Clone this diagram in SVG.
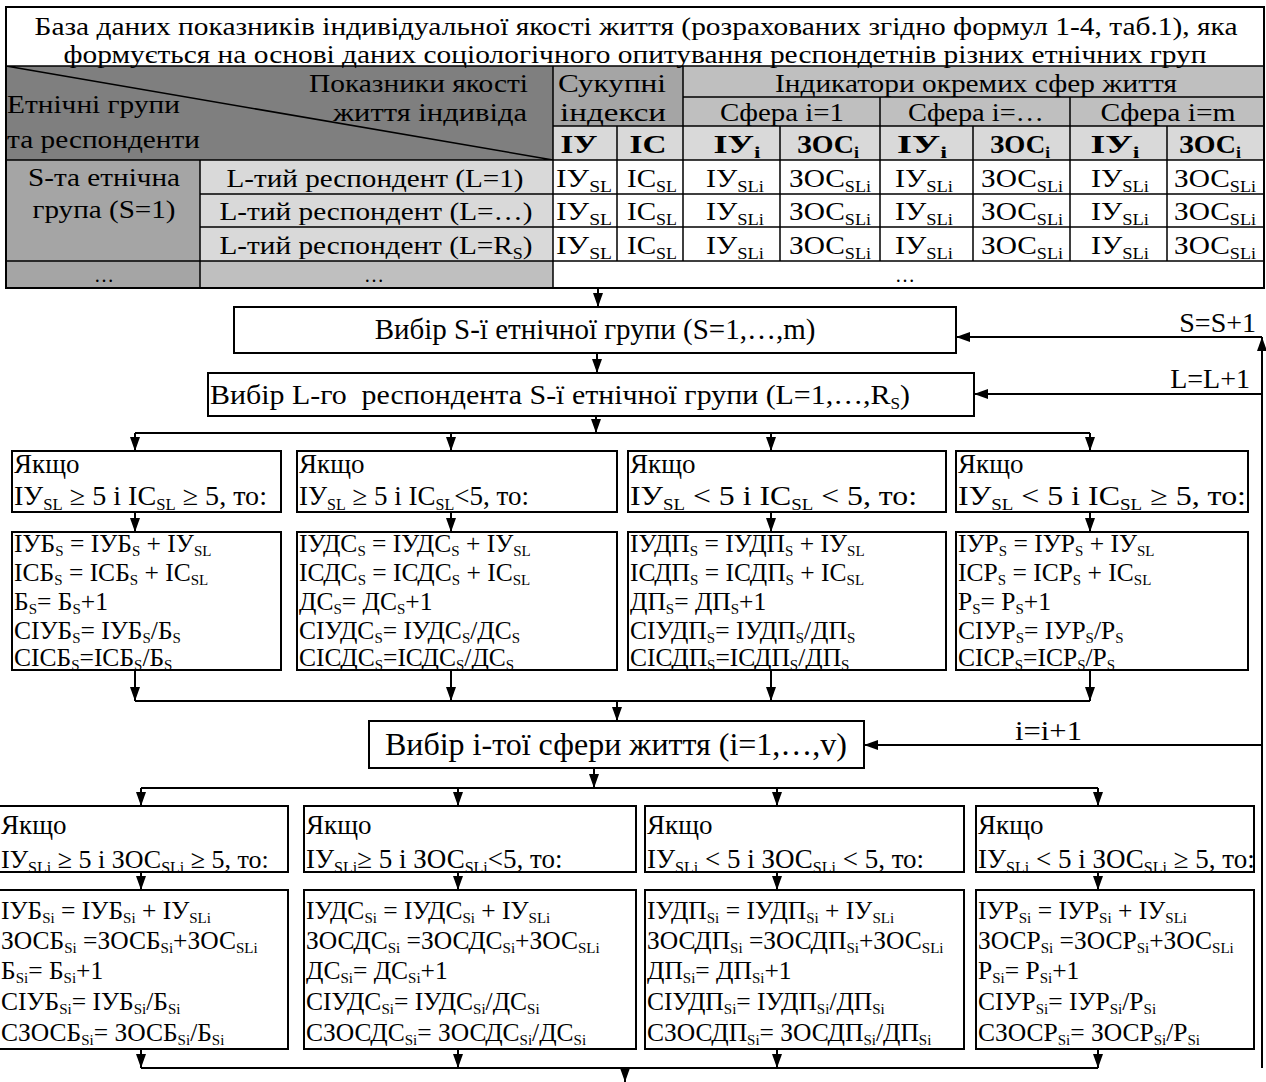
<svg xmlns="http://www.w3.org/2000/svg" width="1266" height="1082" viewBox="0 0 1266 1082">
<defs>
<marker id="ah" viewBox="0 0 14 10" refX="14" refY="5" markerWidth="14" markerHeight="10" markerUnits="userSpaceOnUse" orient="auto"><path d="M0,0 L14,5 L0,10 z" fill="#000"/></marker>
<style>
text{font-family:"Liberation Serif","Times New Roman",serif;fill:#000}
.ti{font-size:25px;text-anchor:middle}
.h{font-size:25px}
.lb{font-size:28px}
.c{text-anchor:middle}
.e{text-anchor:end}
.b{font-weight:bold}
.s{font-size:16px;baseline-shift:-5px}
.sf{font-size:15px;baseline-shift:-3.5px}
.d{font-size:26px;text-anchor:middle}
.dots{font-size:20px;text-anchor:middle}
.cond{font-size:27px}
.f{font-size:25.5px}
.box{fill:#fff;stroke:#000;stroke-width:2}
.ln{stroke:#000;stroke-width:1.5;fill:none}
.cn{stroke:#000;stroke-width:2;fill:none}
.arr{stroke:#000;stroke-width:2;fill:none;marker-end:url(#ah)}
</style>
</defs>
<rect width="1266" height="1082" fill="#fff"/>

<g id="table">
<rect x="6" y="7" width="1258" height="281" fill="#fff"/>
<rect x="6" y="66" width="547" height="94" fill="#7f7f7f"/>
<rect x="553" y="66" width="130" height="60" fill="#a5a5a5"/>
<rect x="683" y="66" width="581" height="60" fill="#bfbfbf"/>
<rect x="553" y="126" width="711" height="34" fill="#d9d9d9"/>
<rect x="6" y="160" width="194" height="128" fill="#a5a5a5"/>
<rect x="200" y="160" width="353" height="101" fill="#d9d9d9"/>
<rect x="200" y="261" width="353" height="27" fill="#bfbfbf"/>
<g class="ln">
<path d="M6,66 H1264 M6,66 L553,160 M6,160 H1264 M683,97 H1264 M553,126 H1264 M200,194 H1264 M200,227 H1264 M6,261 H1264"/>
<path d="M553,66 V288 M683,66 V261 M880,97 V261 M1070,97 V261 M617,126 V261 M780,126 V261 M973,126 V261 M1167,126 V261 M200,160 V288"/>
</g>
<rect x="6" y="7" width="1258" height="281" fill="none" stroke="#000" stroke-width="2"/>
<text class="ti" x="636" y="35" textLength="1203" lengthAdjust="spacingAndGlyphs">База даних показників індивідуальної якості життя (розрахованих згідно формул 1-4, таб.1), яка</text>
<text class="ti" x="635" y="63" textLength="1143" lengthAdjust="spacingAndGlyphs">формується на основі даних соціологічного опитування респондетнів різних етнічних груп</text>
<text class="h e" x="528" y="92" textLength="219" lengthAdjust="spacingAndGlyphs">Показники якості</text>
<text class="h e" x="527" y="121" textLength="194" lengthAdjust="spacingAndGlyphs">життя індивіда</text>
<text class="h" x="7" y="113" textLength="173" lengthAdjust="spacingAndGlyphs">Етнічні групи</text>
<text class="h" x="7" y="148" textLength="193" lengthAdjust="spacingAndGlyphs">та респонденти</text>
<text class="h c" x="612" y="92" textLength="108" lengthAdjust="spacingAndGlyphs">Сукупні</text>
<text class="h c" x="613" y="121" textLength="106" lengthAdjust="spacingAndGlyphs">індекси</text>
<text class="h c" x="976" y="92" textLength="402" lengthAdjust="spacingAndGlyphs">Індикатори окремих сфер життя</text>
<text class="h c" x="782" y="121" textLength="124" lengthAdjust="spacingAndGlyphs">Сфера і=1</text>
<text class="h c" x="976" y="121" textLength="136" lengthAdjust="spacingAndGlyphs">Сфера і=…</text>
<text class="h c" x="1168" y="121" textLength="135" lengthAdjust="spacingAndGlyphs">Сфера і=m</text>
<text class="h c b" x="579" y="153" textLength="37" lengthAdjust="spacingAndGlyphs">ІУ</text>
<text class="h c b" x="648" y="153" textLength="37" lengthAdjust="spacingAndGlyphs">ІС</text>
<text class="h c b" x="737" y="153" textLength="47" lengthAdjust="spacingAndGlyphs">ІУ<tspan class="s">і</tspan></text>
<text class="h c b" x="828" y="153" textLength="62" lengthAdjust="spacingAndGlyphs">ЗОС<tspan class="s">і</tspan></text>
<text class="h c b" x="922" y="153" textLength="50" lengthAdjust="spacingAndGlyphs">ІУ<tspan class="s">і</tspan></text>
<text class="h c b" x="1020" y="153" textLength="60" lengthAdjust="spacingAndGlyphs">ЗОС<tspan class="s">і</tspan></text>
<text class="h c b" x="1115" y="153" textLength="49" lengthAdjust="spacingAndGlyphs">ІУ<tspan class="s">і</tspan></text>
<text class="h c b" x="1210" y="153" textLength="62" lengthAdjust="spacingAndGlyphs">ЗОС<tspan class="s">і</tspan></text>
<text class="d" x="104" y="186" textLength="152" lengthAdjust="spacingAndGlyphs">S-та етнічна</text>
<text class="d" x="104" y="218" textLength="143" lengthAdjust="spacingAndGlyphs">група (S=1)</text>
<text class="d" x="375" y="187" textLength="297" lengthAdjust="spacingAndGlyphs">L-тий респондент (L=1)</text>
<text class="d" x="376" y="220" textLength="313" lengthAdjust="spacingAndGlyphs">L-тий респондент (L=…)</text>
<text class="d" x="376" y="254" textLength="313" lengthAdjust="spacingAndGlyphs">L-тий респондент (L=R<tspan class="s">S</tspan>)</text>
<g id="row1">
<text class="d" x="584" y="187" textLength="56" lengthAdjust="spacingAndGlyphs">ІУ<tspan class="s">SL</tspan></text>
<text class="d" x="652" y="187" textLength="50" lengthAdjust="spacingAndGlyphs">ІС<tspan class="s">SL</tspan></text>
<text class="d" x="735" y="187" textLength="58" lengthAdjust="spacingAndGlyphs">ІУ<tspan class="s">SLi</tspan></text>
<text class="d" x="830" y="187" textLength="82" lengthAdjust="spacingAndGlyphs">ЗОС<tspan class="s">SLi</tspan></text>
<text class="d" x="924" y="187" textLength="58" lengthAdjust="spacingAndGlyphs">ІУ<tspan class="s">SLi</tspan></text>
<text class="d" x="1022" y="187" textLength="82" lengthAdjust="spacingAndGlyphs">ЗОС<tspan class="s">SLi</tspan></text>
<text class="d" x="1120" y="187" textLength="58" lengthAdjust="spacingAndGlyphs">ІУ<tspan class="s">SLi</tspan></text>
<text class="d" x="1215" y="187" textLength="82" lengthAdjust="spacingAndGlyphs">ЗОС<tspan class="s">SLi</tspan></text>
</g>
<g id="row2">
<text class="d" x="584" y="220" textLength="56" lengthAdjust="spacingAndGlyphs">ІУ<tspan class="s">SL</tspan></text>
<text class="d" x="652" y="220" textLength="50" lengthAdjust="spacingAndGlyphs">ІС<tspan class="s">SL</tspan></text>
<text class="d" x="735" y="220" textLength="58" lengthAdjust="spacingAndGlyphs">ІУ<tspan class="s">SLi</tspan></text>
<text class="d" x="830" y="220" textLength="82" lengthAdjust="spacingAndGlyphs">ЗОС<tspan class="s">SLi</tspan></text>
<text class="d" x="924" y="220" textLength="58" lengthAdjust="spacingAndGlyphs">ІУ<tspan class="s">SLi</tspan></text>
<text class="d" x="1022" y="220" textLength="82" lengthAdjust="spacingAndGlyphs">ЗОС<tspan class="s">SLi</tspan></text>
<text class="d" x="1120" y="220" textLength="58" lengthAdjust="spacingAndGlyphs">ІУ<tspan class="s">SLi</tspan></text>
<text class="d" x="1215" y="220" textLength="82" lengthAdjust="spacingAndGlyphs">ЗОС<tspan class="s">SLi</tspan></text>
</g>
<g id="row3">
<text class="d" x="584" y="254" textLength="56" lengthAdjust="spacingAndGlyphs">ІУ<tspan class="s">SL</tspan></text>
<text class="d" x="652" y="254" textLength="50" lengthAdjust="spacingAndGlyphs">ІС<tspan class="s">SL</tspan></text>
<text class="d" x="735" y="254" textLength="58" lengthAdjust="spacingAndGlyphs">ІУ<tspan class="s">SLi</tspan></text>
<text class="d" x="830" y="254" textLength="82" lengthAdjust="spacingAndGlyphs">ЗОС<tspan class="s">SLi</tspan></text>
<text class="d" x="924" y="254" textLength="58" lengthAdjust="spacingAndGlyphs">ІУ<tspan class="s">SLi</tspan></text>
<text class="d" x="1022" y="254" textLength="82" lengthAdjust="spacingAndGlyphs">ЗОС<tspan class="s">SLi</tspan></text>
<text class="d" x="1120" y="254" textLength="58" lengthAdjust="spacingAndGlyphs">ІУ<tspan class="s">SLi</tspan></text>
<text class="d" x="1215" y="254" textLength="82" lengthAdjust="spacingAndGlyphs">ЗОС<tspan class="s">SLi</tspan></text>
</g>
<text class="dots" x="104" y="282">…</text>
<text class="dots" x="374" y="282">…</text>
<text class="dots" x="905" y="282">…</text>
</g>

<g id="connectors">
<path class="arr" d="M598,288 V307"/>
<path class="arr" d="M597,353 V373"/>
<path class="arr" d="M596,416 V433"/>
<path class="cn" d="M135,433 H1090"/>
<path class="arr" d="M135,433 V451"/>
<path class="arr" d="M451,433 V451"/>
<path class="arr" d="M771,433 V451"/>
<path class="arr" d="M1090,433 V451"/>
<path class="arr" d="M135,512 V532"/>
<path class="arr" d="M451,512 V532"/>
<path class="arr" d="M771,512 V532"/>
<path class="arr" d="M1090,512 V532"/>
<path class="arr" d="M135,670 V701"/>
<path class="arr" d="M451,670 V701"/>
<path class="arr" d="M771,670 V701"/>
<path class="arr" d="M1090,670 V701"/>
<path class="cn" d="M135,701 H1090"/>
<path class="arr" d="M617,701 V721"/>
<path class="arr" d="M594,768 V788"/>
<path class="cn" d="M141,788 H1098"/>
<path class="arr" d="M141,788 V806"/>
<path class="arr" d="M458,788 V806"/>
<path class="arr" d="M777,788 V806"/>
<path class="arr" d="M1098,788 V806"/>
<path class="arr" d="M141,872 V890"/>
<path class="arr" d="M458,872 V890"/>
<path class="arr" d="M777,872 V890"/>
<path class="arr" d="M1098,872 V890"/>
<path class="arr" d="M141,1049 V1068"/>
<path class="arr" d="M458,1049 V1068"/>
<path class="arr" d="M777,1049 V1068"/>
<path class="arr" d="M1098,1049 V1068"/>
<path class="cn" d="M141,1068 H1098"/>
<path class="arr" d="M625,1068 V1082"/>
<path class="arr" d="M1262,1068 V337"/>
<path class="arr" d="M1262,337 H956"/>
<path class="arr" d="M1262,394 H974"/>
<path class="arr" d="M1262,745 H864"/>
<text class="lb e" x="1256" y="332">S=S+1</text>
<text class="lb e" x="1250" y="388">L=L+1</text>
<text class="lb" x="1015" y="740" textLength="67" lengthAdjust="spacingAndGlyphs">i=i+1</text>
</g>

<g id="box-s">
<rect class="box" x="234" y="307" width="722" height="46"/>
<text class="c" style="font-size:29px" x="595" y="339">Вибір S-ї етнічної групи (S=1,…,m)</text>
</g>
<g id="box-l">
<rect class="box" x="208" y="373" width="766" height="43"/>
<text style="font-size:28px" x="210" y="404" textLength="700" lengthAdjust="spacingAndGlyphs" xml:space="preserve">Вибір L-го  респондента S-ї етнічної групи (L=1,…,R<tspan class="s">S</tspan>)</text>
</g>

<g id="cond1a">
<rect class="box" x="12" y="451" width="269" height="61"/>
<text class="cond" x="14" y="473">Якщо</text>
<text class="cond" x="14" y="505" textLength="253" lengthAdjust="spacingAndGlyphs">ІУ<tspan class="s">SL</tspan> ≥ 5 і ІС<tspan class="s">SL</tspan> ≥ 5, то:</text>
</g>
<g id="cond1b">
<rect class="box" x="297" y="451" width="320" height="61"/>
<text class="cond" x="299" y="473">Якщо</text>
<text class="cond" x="299" y="505">ІУ<tspan class="s">SL</tspan> ≥ 5 і ІС<tspan class="s">SL</tspan>&lt;5, то:</text>
</g>
<g id="cond1c">
<rect class="box" x="628" y="451" width="318" height="61"/>
<text class="cond" x="630" y="473">Якщо</text>
<text class="cond" x="630" y="505" textLength="287" lengthAdjust="spacingAndGlyphs">ІУ<tspan class="s">SL</tspan> &lt; 5 і ІС<tspan class="s">SL</tspan> &lt; 5, то:</text>
</g>
<g id="cond1d">
<rect class="box" x="956" y="451" width="292" height="61"/>
<text class="cond" x="958" y="473">Якщо</text>
<text class="cond" x="958" y="505" textLength="288" lengthAdjust="spacingAndGlyphs">ІУ<tspan class="s">SL</tspan> &lt; 5 і ІС<tspan class="s">SL</tspan> ≥ 5, то:</text>
</g>

<g id="calc1a">
<rect class="box" x="12" y="532" width="269" height="138"/>
<text class="f" x="14" y="552">ІУБ<tspan class="sf">S</tspan> = ІУБ<tspan class="sf">S</tspan> + ІУ<tspan class="sf">SL</tspan></text>
<text class="f" x="14" y="581">ІСБ<tspan class="sf">S</tspan> = ІСБ<tspan class="sf">S</tspan> + ІС<tspan class="sf">SL</tspan></text>
<text class="f" x="14" y="610">Б<tspan class="sf">S</tspan>= Б<tspan class="sf">S</tspan>+1</text>
<text class="f" x="14" y="639">СІУБ<tspan class="sf">S</tspan>= ІУБ<tspan class="sf">S</tspan>/Б<tspan class="sf">S</tspan></text>
<text class="f" x="14" y="666">СІСБ<tspan class="sf">S</tspan>=ІСБ<tspan class="sf">S</tspan>/Б<tspan class="sf">S</tspan></text>
</g>
<g id="calc1b">
<rect class="box" x="297" y="532" width="320" height="138"/>
<text class="f" x="299" y="552">ІУДС<tspan class="sf">S</tspan> = ІУДС<tspan class="sf">S</tspan> + ІУ<tspan class="sf">SL</tspan></text>
<text class="f" x="299" y="581">ІСДС<tspan class="sf">S</tspan> = ІСДС<tspan class="sf">S</tspan> + ІС<tspan class="sf">SL</tspan></text>
<text class="f" x="299" y="610">ДС<tspan class="sf">S</tspan>= ДС<tspan class="sf">S</tspan>+1</text>
<text class="f" x="299" y="639">СІУДС<tspan class="sf">S</tspan>= ІУДС<tspan class="sf">S</tspan>/ДС<tspan class="sf">S</tspan></text>
<text class="f" x="299" y="666">СІСДС<tspan class="sf">S</tspan>=ІСДС<tspan class="sf">S</tspan>/ДС<tspan class="sf">S</tspan></text>
</g>
<g id="calc1c">
<rect class="box" x="628" y="532" width="318" height="138"/>
<text class="f" x="630" y="552">ІУДП<tspan class="sf">S</tspan> = ІУДП<tspan class="sf">S</tspan> + ІУ<tspan class="sf">SL</tspan></text>
<text class="f" x="630" y="581">ІСДП<tspan class="sf">S</tspan> = ІСДП<tspan class="sf">S</tspan> + ІС<tspan class="sf">SL</tspan></text>
<text class="f" x="630" y="610">ДП<tspan class="sf">S</tspan>= ДП<tspan class="sf">S</tspan>+1</text>
<text class="f" x="630" y="639">СІУДП<tspan class="sf">S</tspan>= ІУДП<tspan class="sf">S</tspan>/ДП<tspan class="sf">S</tspan></text>
<text class="f" x="630" y="666">СІСДП<tspan class="sf">S</tspan>=ІСДП<tspan class="sf">S</tspan>/ДП<tspan class="sf">S</tspan></text>
</g>
<g id="calc1d">
<rect class="box" x="956" y="532" width="292" height="138"/>
<text class="f" x="958" y="552">ІУР<tspan class="sf">S</tspan> = ІУР<tspan class="sf">S</tspan> + ІУ<tspan class="sf">SL</tspan></text>
<text class="f" x="958" y="581">ІСР<tspan class="sf">S</tspan> = ІСР<tspan class="sf">S</tspan> + ІС<tspan class="sf">SL</tspan></text>
<text class="f" x="958" y="610">Р<tspan class="sf">S</tspan>= Р<tspan class="sf">S</tspan>+1</text>
<text class="f" x="958" y="639">СІУР<tspan class="sf">S</tspan>= ІУР<tspan class="sf">S</tspan>/Р<tspan class="sf">S</tspan></text>
<text class="f" x="958" y="666">СІСР<tspan class="sf">S</tspan>=ІСР<tspan class="sf">S</tspan>/Р<tspan class="sf">S</tspan></text>
</g>

<g id="box-i">
<rect class="box" x="369" y="721" width="495" height="47"/>
<text class="c" style="font-size:32px" x="616" y="755">Вибір і-тої сфери життя (і=1,…,v)</text>
</g>

<g id="cond2a">
<rect class="box" x="-2" y="806" width="290" height="66"/>
<text class="cond" x="1" y="834">Якщо</text>
<text class="cond" style="font-size:26px" x="1" y="868">ІУ<tspan class="s">SLi</tspan> ≥ 5 і ЗОС<tspan class="s">SLi</tspan> ≥ 5, то:</text>
</g>
<g id="cond2b">
<rect class="box" x="304" y="806" width="332" height="66"/>
<text class="cond" x="306" y="834">Якщо</text>
<text class="cond" x="306" y="868">ІУ<tspan class="s">SLi</tspan>≥ 5 і ЗОС<tspan class="s">SLi</tspan>&lt;5, то:</text>
</g>
<g id="cond2c">
<rect class="box" x="645" y="806" width="319" height="66"/>
<text class="cond" x="647" y="834">Якщо</text>
<text class="cond" x="647" y="868">ІУ<tspan class="s">SLi</tspan> &lt; 5 і ЗОС<tspan class="s">SLi</tspan> &lt; 5, то:</text>
</g>
<g id="cond2d">
<rect class="box" x="976" y="806" width="278" height="66"/>
<text class="cond" x="978" y="834">Якщо</text>
<text class="cond" x="978" y="868">ІУ<tspan class="s">SLi</tspan> &lt; 5 і ЗОС<tspan class="s">SLi</tspan> ≥ 5, то:</text>
</g>

<g id="calc2a">
<rect class="box" x="-2" y="890" width="290" height="159"/>
<text class="f" x="1" y="919">ІУБ<tspan class="sf">Si</tspan> = ІУБ<tspan class="sf">Si</tspan> + ІУ<tspan class="sf">SLi</tspan></text>
<text class="f" x="1" y="949">ЗОСБ<tspan class="sf">Si</tspan> =ЗОСБ<tspan class="sf">Si</tspan>+ЗОС<tspan class="sf">SLi</tspan></text>
<text class="f" x="1" y="979">Б<tspan class="sf">Si</tspan>= Б<tspan class="sf">Si</tspan>+1</text>
<text class="f" x="1" y="1010">СІУБ<tspan class="sf">Si</tspan>= ІУБ<tspan class="sf">Si</tspan>/Б<tspan class="sf">Si</tspan></text>
<text class="f" x="1" y="1041">СЗОСБ<tspan class="sf">Si</tspan>= ЗОСБ<tspan class="sf">Si</tspan>/Б<tspan class="sf">Si</tspan></text>
</g>
<g id="calc2b">
<rect class="box" x="304" y="890" width="332" height="159"/>
<text class="f" x="306" y="919">ІУДС<tspan class="sf">Si</tspan> = ІУДС<tspan class="sf">Si</tspan> + ІУ<tspan class="sf">SLi</tspan></text>
<text class="f" x="306" y="949">ЗОСДС<tspan class="sf">Si</tspan> =ЗОСДС<tspan class="sf">Si</tspan>+ЗОС<tspan class="sf">SLi</tspan></text>
<text class="f" x="306" y="979">ДС<tspan class="sf">Si</tspan>= ДС<tspan class="sf">Si</tspan>+1</text>
<text class="f" x="306" y="1010">СІУДС<tspan class="sf">Si</tspan>= ІУДС<tspan class="sf">Si</tspan>/ДС<tspan class="sf">Si</tspan></text>
<text class="f" x="306" y="1041">СЗОСДС<tspan class="sf">Si</tspan>= ЗОСДС<tspan class="sf">Si</tspan>/ДС<tspan class="sf">Si</tspan></text>
</g>
<g id="calc2c">
<rect class="box" x="645" y="890" width="319" height="159"/>
<text class="f" x="647" y="919">ІУДП<tspan class="sf">Si</tspan> = ІУДП<tspan class="sf">Si</tspan> + ІУ<tspan class="sf">SLi</tspan></text>
<text class="f" x="647" y="949">ЗОСДП<tspan class="sf">Si</tspan> =ЗОСДП<tspan class="sf">Si</tspan>+ЗОС<tspan class="sf">SLi</tspan></text>
<text class="f" x="647" y="979">ДП<tspan class="sf">Si</tspan>= ДП<tspan class="sf">Si</tspan>+1</text>
<text class="f" x="647" y="1010">СІУДП<tspan class="sf">Si</tspan>= ІУДП<tspan class="sf">Si</tspan>/ДП<tspan class="sf">Si</tspan></text>
<text class="f" x="647" y="1041">СЗОСДП<tspan class="sf">Si</tspan>= ЗОСДП<tspan class="sf">Si</tspan>/ДП<tspan class="sf">Si</tspan></text>
</g>
<g id="calc2d">
<rect class="box" x="976" y="890" width="278" height="159"/>
<text class="f" x="978" y="919">ІУР<tspan class="sf">Si</tspan> = ІУР<tspan class="sf">Si</tspan> + ІУ<tspan class="sf">SLi</tspan></text>
<text class="f" x="978" y="949">ЗОСР<tspan class="sf">Si</tspan> =ЗОСР<tspan class="sf">Si</tspan>+ЗОС<tspan class="sf">SLi</tspan></text>
<text class="f" x="978" y="979">Р<tspan class="sf">Si</tspan>= Р<tspan class="sf">Si</tspan>+1</text>
<text class="f" x="978" y="1010">СІУР<tspan class="sf">Si</tspan>= ІУР<tspan class="sf">Si</tspan>/Р<tspan class="sf">Si</tspan></text>
<text class="f" x="978" y="1041">СЗОСР<tspan class="sf">Si</tspan>= ЗОСР<tspan class="sf">Si</tspan>/Р<tspan class="sf">Si</tspan></text>
</g>
</svg>
